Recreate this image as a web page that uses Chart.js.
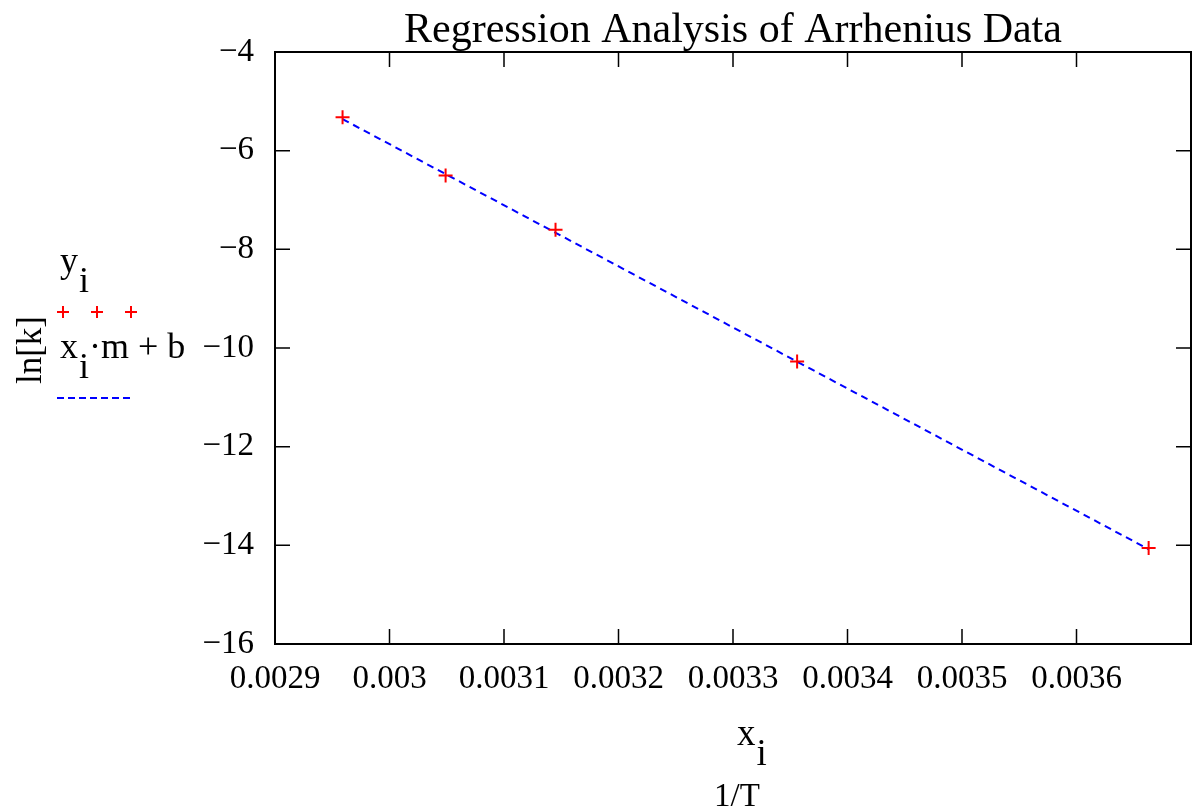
<!DOCTYPE html>
<html>
<head>
<meta charset="utf-8">
<script src="https://cdn.jsdelivr.net/npm/chart.js@4"></script>
<style>
  html, body { margin: 0; padding: 0; background: #fff; overflow: hidden; }
  #wrap { width: 1200px; height: 810px; position: relative; }
</style>
</head>
<body>
<div id="wrap"><canvas id="grafico"></canvas></div>
<script>
// dati: 1/T e ln[k]
var inversoT = [0.002959, 0.003049, 0.003145, 0.003356, 0.003663];
var lnK = [-5.325, -6.502, -7.605, -10.272, -14.055];

// retta di regressione (estremi)
var rettaX = [0.002959, 0.003663];
var rettaY = [-5.36, -14.08];

var yTicks = [-4, -6, -8, -10, -12, -14, -16];
var xTicks = ['0.0029', '0.003', '0.0031', '0.0032', '0.0033', '0.0034', '0.0035', '0.0036'];

var titolo = 'Regression Analysis of Arrhenius Data';
var font = '"Liberation Serif", "Times New Roman", serif';

var puntiDati = [];
for (var i = 0; i < inversoT.length; i++) {
    puntiDati.push({ x: inversoT[i], y: lnK[i] });
}
var puntiRetta = [];
for (var j = 0; j < rettaX.length; j++) {
    puntiRetta.push({ x: rettaX[j], y: rettaY[j] });
}

function meno(v) {
    return String(v).replace('-', '\u2212');
}

// testo con pedice
function scriviPedice(ctx, base, pedice, x, y, size, dopo) {
    ctx.font = size + 'px ' + font;
    ctx.fillText(base, x, y);
    var w = ctx.measureText(base).width;
    ctx.fillText(pedice, x + w + 1, y + 20);
    var w2 = ctx.measureText(pedice).width;
    if (dopo) {
        ctx.fillText(dopo, x + w + 1 + w2, y);
    }
}

var decorazioni = {
    id: 'decorazioni',
    afterDraw: function (chart) {
        var ctx = chart.ctx;
        var a = chart.chartArea;
        var sx = chart.scales.x;
        var sy = chart.scales.y;
        ctx.save();
        ctx.strokeStyle = '#000';
        ctx.lineWidth = 2;
        // bordo sopra e a destra
        ctx.beginPath();
        ctx.moveTo(a.left, a.top);
        ctx.lineTo(a.right, a.top);
        ctx.lineTo(a.right, a.bottom);
        ctx.stroke();
        // tacche verso l'interno
        ctx.lineWidth = 1.5;
        ctx.beginPath();
        sx.ticks.forEach(function (t) {
            var px = sx.getPixelForValue(t.value);
            ctx.moveTo(px, a.bottom);
            ctx.lineTo(px, a.bottom - 15);
            ctx.moveTo(px, a.top);
            ctx.lineTo(px, a.top + 15);
        });
        sy.ticks.forEach(function (t) {
            var py = sy.getPixelForValue(t.value);
            ctx.moveTo(a.left, py);
            ctx.lineTo(a.left + 15, py);
            ctx.moveTo(a.right, py);
            ctx.lineTo(a.right - 15, py);
        });
        ctx.stroke();

        ctx.fillStyle = '#000';
        ctx.textBaseline = 'alphabetic';
        // titolo
        ctx.font = '42px ' + font;
        ctx.textAlign = 'center';
        ctx.fillText(titolo, (a.left + a.right) / 2, 42);
        ctx.textAlign = 'left';

        // titolo asse x
        scriviPedice(ctx, 'x', 'i', 737, 745, 37);
        ctx.font = '33px ' + font;
        ctx.textAlign = 'center';
        ctx.fillText('1/T', 737, 806);
        ctx.textAlign = 'left';

        // titolo asse y
        ctx.save();
        ctx.translate(41, 350);
        ctx.rotate(-Math.PI / 2);
        ctx.textAlign = 'center';
        ctx.font = '35px ' + font;
        ctx.fillText('ln[k]', 0, 0);
        ctx.restore();

        // legenda
        scriviPedice(ctx, 'y', 'i', 60, 272, 36);
        ctx.strokeStyle = '#ff0000';
        ctx.lineWidth = 2;
        ctx.beginPath();
        [63, 97, 131].forEach(function (cx) {
            ctx.moveTo(cx - 6, 312);
            ctx.lineTo(cx + 6, 312);
            ctx.moveTo(cx, 306);
            ctx.lineTo(cx, 318);
        });
        ctx.stroke();
        scriviPedice(ctx, 'x', 'i', 60, 358, 36, '\u00b7m + b');
        ctx.strokeStyle = '#0000ff';
        ctx.lineWidth = 2;
        ctx.setLineDash([7, 4]);
        ctx.beginPath();
        ctx.moveTo(57, 398);
        ctx.lineTo(132, 398);
        ctx.stroke();
        ctx.restore();
    }
};

var grafico = new Chart(document.getElementById('grafico'), {
    type: 'scatter',
    data: {
        datasets: [{
            label: 'y_i',
            data: puntiDati,
            pointStyle: 'cross',
            pointRadius: 7,
            pointBorderWidth: 2,
            borderColor: '#ff0000',
            backgroundColor: '#ff0000',
            showLine: false,
            order: 0
        }, {
            label: 'x_i m + b',
            data: puntiRetta,
            showLine: true,
            borderColor: '#0000ff',
            borderWidth: 2,
            borderDash: [7, 5],
            pointRadius: 0,
            order: 1
        }]
    },
    options: {
        responsive: true,
        maintainAspectRatio: false,
        animation: false,
        layout: { padding: { top: 52, right: 5, left: 0, bottom: 0 } },
        plugins: {
            legend: { display: false },
            title: { display: false },
            tooltip: { enabled: false }
        },
        scales: {
            x: {
                type: 'linear',
                min: 0.0029,
                max: 0.0037,
                afterFit: function (s) { s.height = 166; },
                afterBuildTicks: function (s) {
                    s.ticks = xTicks.map(function (t) { return { value: parseFloat(t) }; })
                        .concat([{ value: 0.0037 }]);
                },
                grid: { display: false },
                border: { display: true, color: '#000', width: 2 },
                ticks: {
                    color: '#000',
                    padding: 8,
                    maxRotation: 0,
                    autoSkip: false,
                    font: { family: font, size: 33 },
                    callback: function (v, idx) {
                        return idx < xTicks.length ? xTicks[idx] : '';
                    }
                }
            },
            y: {
                type: 'linear',
                min: -16,
                max: -4,
                afterFit: function (s) { s.width = 275; },
                afterBuildTicks: function (s) {
                    s.ticks = yTicks.map(function (t) { return { value: t }; });
                },
                grid: { display: false },
                border: { display: true, color: '#000', width: 2 },
                ticks: {
                    color: '#000',
                    padding: 13,
                    autoSkip: false,
                    font: { family: font, size: 33 },
                    callback: function (v) { return meno(v); }
                }
            }
        }
    },
    plugins: [decorazioni]
});
</script>
</body>
</html>
